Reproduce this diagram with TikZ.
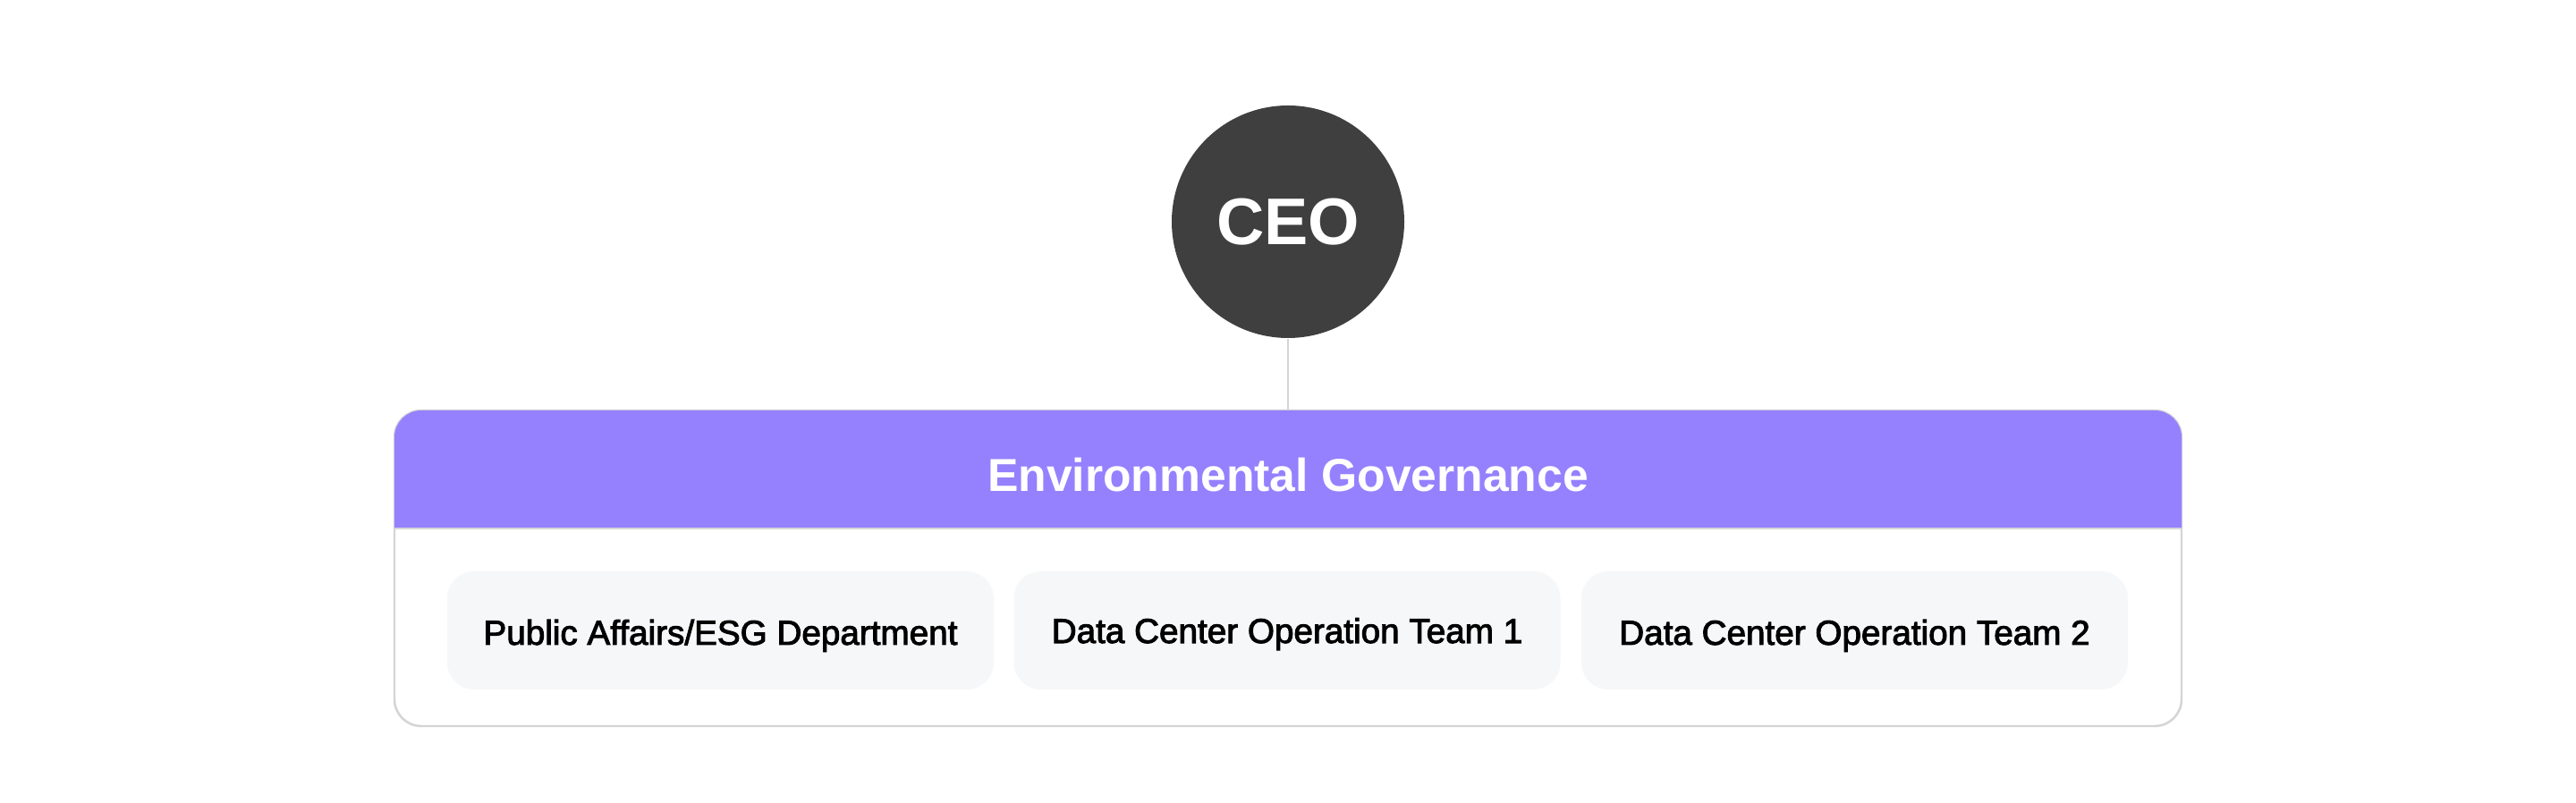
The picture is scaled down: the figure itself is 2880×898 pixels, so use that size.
\documentclass[tikz,border=0pt]{standalone}
\usepackage{fontspec}
\setmainfont{Liberation Sans}
\newfontfamily\medfont{Liberation Sans}[FakeBold=2.5]
\usetikzlibrary{positioning,calc}
\definecolor{ceogray}{HTML}{3F3F3F}
\definecolor{govpurple}{HTML}{9581FE}
\definecolor{cardgray}{HTML}{F6F7F9}
\definecolor{linegray}{HTML}{D4D4D6}

\begin{document}
\begin{tikzpicture}[x=0.1mm, y=-0.1mm,
    every node/.style={inner sep=0pt},
    ceo/.style={circle, fill=ceogray, text=white, minimum size=26mm,
                font=\bfseries\fontsize{21}{24}\selectfont},
    panel/.style={draw=linegray, line width=0.7pt, fill=white, rounded corners=3mm,
                  minimum width=199.8mm, minimum height=35.3mm},
    hdr/.style={text=white, font=\bfseries\fontsize{14.7}{17}\selectfont},
    card/.style={fill=cardgray, rounded corners=3mm, minimum width=61.1mm,
                 minimum height=13.2mm, text height=9.1pt, text depth=0pt,
                 font=\medfont\fontsize{11}{13}\selectfont},
    link/.style={draw=linegray, line width=0.8pt}
  ]
  \useasboundingbox[fill=white] (0,0) rectangle (2880,898);
  \node[ceo] (ceo) at (1440,248) {CEO};
  \node[panel] (panel) at (1440,635.5) {};
  \draw[link] (ceo) -- (panel.north);
  % header band
  \fill[govpurple] (441,591) [rounded corners=3mm] -- (441,459) -- (2439,459)
    [sharp corners] -- (2439,591) -- cycle;
  \draw[linegray, line width=0.7pt] (441,591) -- (2439,591);
  \node[hdr] (gov) at (1440,531) {Environmental Governance};
  \node[card] (esg)   at (805.5,705) {Public Affairs/ESG Department};
  \node[card, text height=8pt] (team1) at (1439,705) {Data Center Operation Team 1};
  \node[card] (team2) at (2073.5,705) {Data Center Operation Team 2};
\end{tikzpicture}
\end{document}
